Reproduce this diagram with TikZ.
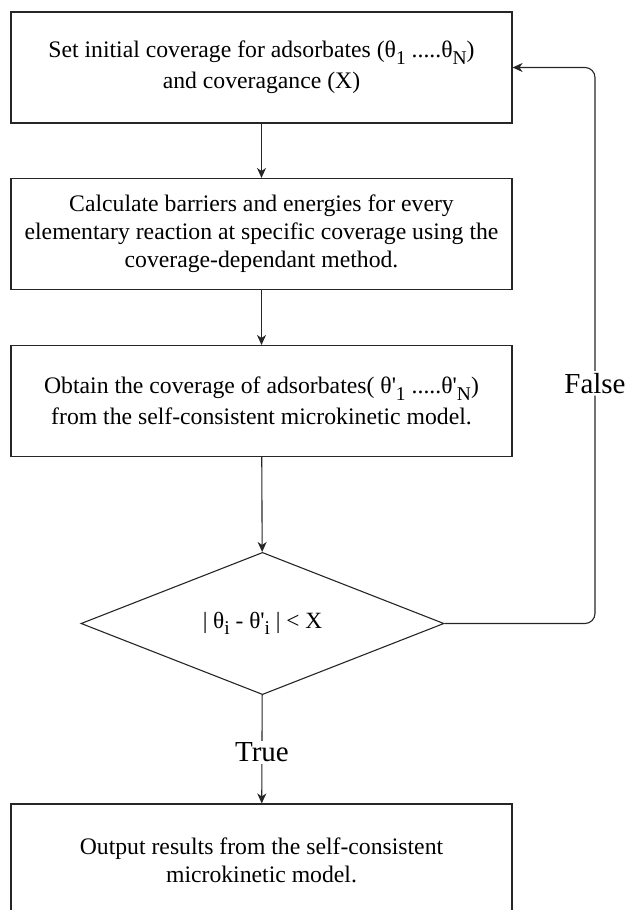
\documentclass[tikz,border=0pt]{standalone}
\usepackage{fontspec}
\setmainfont{Liberation Serif}
\usetikzlibrary{shapes.geometric,arrows.meta}
\font\aposfont="Liberation Serif" at 23.7pt
\newcommand\sbs[1]{\raisebox{-0.28em}{\fontsize{19.5}{19.5}\selectfont #1}}
\newcommand\apos{{\aposfont'}}
\begin{document}
\begin{tikzpicture}[x=1pt,y=-1pt,
  box/.style={draw=black!85, line width=1.1pt, minimum width=501pt, minimum height=111pt,
    inner sep=0pt, align=center, font=\fontsize{23.7}{28}\selectfont},
  dia/.style={draw=black!85, line width=1.1pt, shape=diamond, minimum width=363pt,
    minimum height=139pt, inner sep=0pt, font=\fontsize{23.3}{28}\selectfont},
  arr/.style={draw=black!85, line width=1.1pt, -{Stealth[length=10pt,width=9pt,inset=3pt]}},
  lbl/.style={fill=white, inner sep=2pt, font=\fontsize{29}{32}\selectfont}]
\clip (0,0) rectangle (631,910);
\useasboundingbox (0,0) rectangle (631,910);
\node[box] (b1) at (261.5,67.5) {Set initial coverage for adsorbates (θ\sbs{1} .....θ\sbs{N})\\[3pt] and coveragance (X)};
\node[box] (b2) at (261.5,234) {Calculate barriers and energies for every\\ elementary reaction at specific coverage using the\\ coverage-dependant method.};
\node[box] (b3) at (261.5,401) {Obtain the coverage of adsorbates( θ\apos\sbs{1} .....θ\apos\sbs{N})\\[3pt] from the self-consistent microkinetic model.};
\node[dia] (d) at (262.5,623.5) {| θ\sbs{i} - θ\apos\sbs{i} | < X};
\node[box, minimum height=112pt] (b4) at (261.5,860) {Output results from the self-consistent\\ microkinetic model.};
\coordinate (lp1) at (595,623.5);
\coordinate (lp2) at (595,67.5);
\draw[arr] (b1) -- (b2);
\draw[arr] (b2) -- (b3);
\draw[arr] (b3) -- (d);
\draw[arr] (d) -- node[lbl, pos=0.53] {True} (b4);
\draw[arr, rounded corners=10pt] (d.east) -- (lp1) -- node[lbl, pos=0.432] {False} (lp2) -- (b1.east);
\end{tikzpicture}
\end{document}
